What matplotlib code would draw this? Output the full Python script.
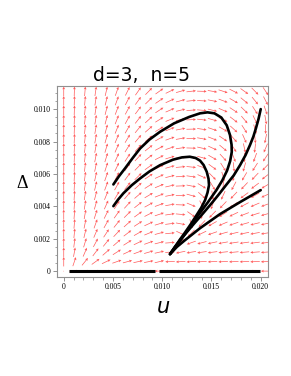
import numpy as np
import matplotlib
matplotlib.use("Agg")
import matplotlib.pyplot as plt
from matplotlib.ticker import MultipleLocator, FixedLocator

# trajectories (u, Delta), in units of 0.001
traj_a_u = [5.04, 5.6, 6.22, 7.0, 7.75, 8.7, 9.78, 11.2, 12.75, 13.84, 14.6, 15.3, 16.0, 16.55, 16.88,
            17.04, 17.06, 16.9, 16.58, 16.1, 15.5, 14.65, 13.9, 13.23, 12.5, 11.91, 11.3, 10.79]
traj_a_d = [5.35, 5.85, 6.34, 6.98, 7.57, 8.12, 8.60, 9.12, 9.52, 9.74, 9.80, 9.74, 9.48, 9.0, 8.40,
            7.8, 7.36, 6.8, 6.2, 5.6, 5.0, 4.26, 3.65, 3.1, 2.45, 1.95, 1.47, 1.05]
traj_b_u = [5.04, 5.5, 6.05, 6.9, 7.75, 8.7, 9.78, 11.1, 12.0, 12.8, 13.4, 13.84, 14.2, 14.52, 14.7,
            14.75, 14.6, 14.35, 13.95, 13.43, 12.9, 12.31, 11.8, 11.3, 10.79]
traj_b_d = [4.01, 4.4, 4.80, 5.3, 5.72, 6.15, 6.54, 6.88, 7.02, 7.06, 6.98, 6.82, 6.55, 6.13, 5.7,
            5.31, 4.85, 4.38, 3.9, 3.4, 2.9, 2.38, 1.95, 1.5, 1.05]
traj_c_u = [20.0, 19.78, 19.52, 19.25, 18.91, 18.45, 17.90, 17.25, 16.48, 15.7, 14.95, 14.15, 13.33,
            12.6, 11.91, 11.3, 10.79]
traj_c_d = [10.0, 9.4, 8.83, 8.3, 7.78, 7.15, 6.54, 5.9, 5.31, 4.7, 4.14, 3.57, 3.0, 2.48, 1.98, 1.5, 1.05]
traj_e_u = [20.0, 17.90, 15.87, 13.84, 12.31, 11.5, 10.79]
traj_e_d = [5.0, 4.26, 3.52, 2.65, 1.91, 1.5, 1.05]
axis_segs_u = [(0.57, 9.27), (9.68, 19.93)]

# direction field grid
grid_u = np.linspace(0, 20.5, 20)
grid_d = np.linspace(0, 11.1, 20)
u_star, d_star, u_saddle = 10.79, 1.05, 9.47


def field(x, y):
    s = d_star / (u_star - u_saddle)
    fx = x * (x + 5) / 15 * (y - d_star - s * (x - u_star))
    fy = y * (u_star + 0.3 * (y - d_star) - x)
    return fx, fy


fig = plt.figure(figsize=(2.91, 3.76), dpi=100)
ax = fig.add_axes([0.196, 0.263, 0.725, 0.508])

U, D = np.meshgrid(grid_u, grid_d)
fx, fy = field(U, D)
# direction on screen (x: 9.85 px per unit, y: 16.2 px per unit)
px = fx * 9.85
py = fy * 16.2
n = np.hypot(px, py)
n[n == 0] = 1
ax.quiver(U / 1000, D / 1000, px / n, py / n, angles='uv', scale_units='dots', scale=1 / 9.5,
          pivot='mid', color='#ff5a5a', width=0.7, units='dots',
          headwidth=4, headlength=4, headaxislength=3.5, zorder=1)

for tu, td in [(traj_a_u, traj_a_d), (traj_b_u, traj_b_d), (traj_c_u, traj_c_d), (traj_e_u, traj_e_d)]:
    ax.plot(np.array(tu) / 1000, np.array(td) / 1000, color='black', lw=1.9,
            solid_capstyle='round', solid_joinstyle='round', zorder=3)
for a, b in axis_segs_u:
    ax.plot([a / 1000, b / 1000], [0, 0], color='black', lw=2.2, solid_capstyle='butt', zorder=3)

ax.set_xlim(-0.00068, 0.02074)
ax.set_ylim(-0.00037, 0.01142)

ax.xaxis.set_major_locator(FixedLocator([0, 0.005, 0.010, 0.015, 0.020]))
ax.set_xticklabels(['0', '0.005', '0.010', '0.015', '0.020'])
ax.yaxis.set_major_locator(FixedLocator([0, 0.002, 0.004, 0.006, 0.008, 0.010]))
ax.set_yticklabels(['0', '0.002', '0.004', '0.006', '0.008', '0.010'])
ax.xaxis.set_minor_locator(MultipleLocator(0.001))
ax.yaxis.set_minor_locator(MultipleLocator(0.0005))
for lab in ax.get_xticklabels() + ax.get_yticklabels():
    lab.set_family('Liberation Serif')
    lab.set_fontsize(5.5)
ax.tick_params(which='major', length=3, width=0.6, color='#808080', pad=1.5)
ax.tick_params(which='minor', length=1.8, width=0.5, color='#808080')
for sp in ax.spines.values():
    sp.set_color('#909090')
    sp.set_linewidth(0.8)

fig.text(0.486, 0.80, 'd=3,  n=5', ha='center', va='center', fontsize=13.5, family='DejaVu Sans')
fig.text(0.56, 0.183, 'u', ha='center', va='center', fontsize=15, style='italic', family='DejaVu Sans')
fig.text(0.075, 0.513, '\u0394', ha='center', va='center', fontsize=13, family='Liberation Serif')

fig.savefig('out.png', dpi=100)
